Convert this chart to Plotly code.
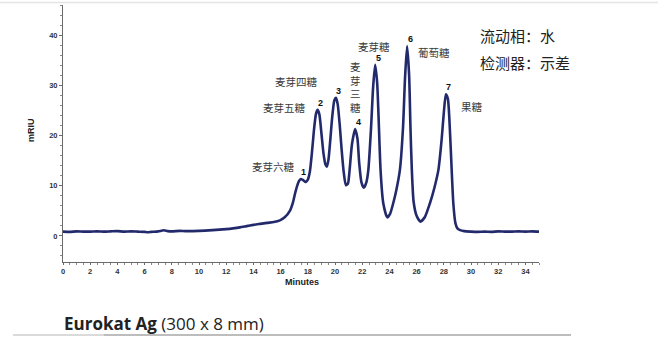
import plotly.graph_objects as go

# Refractive-index chromatogram of a maltooligosaccharide standard
time_min = [0.0, 0.5, 1.0, 1.5, 2.0, 2.5, 3.0, 3.5, 4.0, 4.5, 5.0, 5.5, 6.0, 6.2, 6.5,
            7.0, 7.4, 7.7, 8.0, 8.6, 9.0, 10.0, 11.0, 12.0, 12.5, 13.0, 13.5, 14.0,
            14.5, 15.0, 15.5, 15.95, 16.3, 16.68, 16.9, 17.05, 17.2, 17.35, 17.47,
            17.6, 17.75, 17.86, 18.0, 18.15, 18.3, 18.45, 18.6, 18.72, 18.85, 19.0,
            19.15, 19.3, 19.4, 19.52, 19.65, 19.8, 19.95, 20.07, 20.2, 20.35, 20.5,
            20.65, 20.8, 20.95, 21.07, 21.25, 21.48, 21.65, 21.78, 21.95, 22.12,
            22.3, 22.45, 22.65, 22.8, 22.95, 23.1, 23.2, 23.35, 23.55, 23.84, 24.05,
            24.28, 24.5, 24.77, 25.0, 25.15, 25.3, 25.45, 25.55, 25.65, 25.78, 26.0,
            26.28, 26.6, 26.98, 27.3, 27.6, 27.85, 28.0, 28.15, 28.3, 28.45, 28.58,
            28.7, 28.85, 29.0, 29.2, 29.5, 30.0, 30.5, 31.0, 31.5, 32.0, 32.5, 33.0,
            33.5, 34.0, 34.5, 35.0]
signal_mriu = [0.85, 0.8, 0.9, 0.85, 0.85, 0.9, 0.85, 0.9, 0.95, 0.85, 0.9, 0.85, 0.8, 0.72, 0.8,
               0.9, 1.12, 0.95, 0.9, 1.0, 0.95, 1.0, 1.15, 1.35, 1.5, 1.7, 1.95, 2.2,
               2.4, 2.6, 2.75, 3.1, 3.7, 5.0, 6.6, 8.3, 9.8, 10.9, 11.3,
               11.2, 10.9, 10.75, 11.2, 12.8, 16.5, 21.0, 24.3, 25.1, 24.2, 20.5,
               16.5, 14.2, 13.8, 15.2, 19.0, 23.8, 27.0, 27.5, 26.2, 22.0, 16.8,
               12.5, 10.1, 10.4, 13.0, 18.3, 21.3, 19.4, 14.5, 10.6, 9.6,
               10.6, 13.1, 21.5, 29.5, 34.1, 30.5, 24.0, 13.1, 6.5, 3.7, 4.4,
               6.5, 9.0, 13.1, 21.5, 31.5, 37.8, 32.0, 21.5, 13.1, 6.8, 4.0,
               2.85, 3.7, 6.5, 9.5, 13.1, 19.5, 24.5, 28.2, 27.3, 21.0, 13.1,
               6.5, 2.6, 1.5, 1.15, 0.95, 0.85, 0.8, 0.85, 0.8, 0.9, 0.85, 0.85,
               0.9, 0.85, 0.9, 0.85]

# Numbered peaks: retention time and apex height
peak_no = ["1", "2", "3", "4", "5", "6", "7"]
peak_time = [17.47, 18.72, 20.07, 21.48, 22.95, 25.3, 28.15]
peak_height = [11.3, 25.1, 27.5, 21.3, 34.1, 37.8, 28.2]

# Compound names and where they sit (minutes, mRIU)
compound_name = ["麦芽六糖", "麦芽五糖", "麦芽四糖", "麦<br>芽<br>三<br>糖", "麦芽糖", "葡萄糖", "果糖"]
compound_x = [15.5, 16.3, 17.2, 21.5, 22.85, 27.25, 30.05]
compound_y = [13.9, 25.5, 30.7, 29.6, 37.8, 36.5, 25.7]

x_ticks = list(range(0, 36, 2))
y_ticks = [0, 10, 20, 30, 40]

W, H = 658, 338
L, R, T, B = 63, 119, 5, 76


def px(xp):
    return (xp - L) / (W - L - R)


def py(yp):
    return (H - B - yp) / (H - B - T)


fig = go.Figure()
fig.add_trace(go.Scatter(
    x=time_min, y=signal_mriu, mode="lines",
    line=dict(color="#232a6c", width=2.6, shape="spline", smoothing=0.6),
    hoverinfo="skip", showlegend=False,
))

annotations = []
for n, t, h in zip(peak_no, peak_time, peak_height):
    annotations.append(dict(
        x=t, y=h, text=n, showarrow=False, xshift=3, yshift=7,
        font=dict(family="Liberation Sans, Arial", size=9, color="#111", weight="bold"),
    ))
for name, cx, cy in zip(compound_name, compound_x, compound_y):
    annotations.append(dict(
        x=cx, y=cy, text=name, showarrow=False,
        font=dict(family="Noto Sans CJK SC", size=10.5, color="#3a3a3a"),
    ))

annotations += [
    dict(xref="paper", yref="paper", x=px(478), y=py(35), xanchor="left", yanchor="middle",
         text="流动相：水", showarrow=False,
         font=dict(family="Noto Sans CJK SC", size=15, color="#222")),
    dict(xref="paper", yref="paper", x=px(478), y=py(62), xanchor="left", yanchor="middle",
         text="检测器：示差", showarrow=False,
         font=dict(family="Noto Sans CJK SC", size=15, color="#222")),
    dict(xref="paper", yref="paper", x=px(302), y=py(282), xanchor="center", yanchor="middle",
         text="Minutes", showarrow=False,
         font=dict(family="Liberation Sans, Arial", size=9, color="#222", weight="bold")),
    dict(xref="paper", yref="paper", x=px(31), y=py(130), xanchor="center", yanchor="middle",
         text="mRIU", textangle=-90, showarrow=False,
         font=dict(family="Liberation Sans, Arial", size=9, color="#222", weight="bold")),
    dict(xref="paper", yref="paper", x=px(62), y=py(323), xanchor="left", yanchor="middle",
         text="<b>Eurokat Ag</b> (300 x 8 mm)", showarrow=False,
         font=dict(family="Open Sans", size=17, color="#222")),
]

shapes = [
    dict(type="line", xref="paper", yref="paper", x0=px(0), x1=px(W), y0=py(2.5), y1=py(2.5),
         line=dict(color="#e4e4e4", width=1.5)),
    dict(type="line", xref="paper", yref="paper", x0=px(13), x1=px(104), y0=py(335), y1=py(335),
         line=dict(color="#dadada", width=2)),
    dict(type="line", xref="paper", yref="paper", x0=px(104), x1=px(571), y0=py(335), y1=py(335),
         line=dict(color="#bdbdbd", width=2)),
]

tick_font = dict(family="Liberation Sans, Arial", size=7.5, color="#333", weight="bold")
fig.update_layout(
    width=W, height=H,
    margin=dict(l=L, r=R, t=T, b=B),
    paper_bgcolor="white", plot_bgcolor="white",
    annotations=annotations, shapes=shapes,
    xaxis=dict(range=[0, 35], tickvals=x_ticks, showgrid=False, zeroline=False,
               showline=True, linecolor="#6a6a6a", linewidth=1,
               ticks="outside", ticklen=2, tickcolor="#6a6a6a", tickfont=tick_font,
               minor=dict(dtick=0.5, ticks="outside", ticklen=2, tickcolor="#8a8a8a")),
    yaxis=dict(range=[-5.2, 46], tickvals=y_ticks, showgrid=False, zeroline=False,
               showline=True, linecolor="#6a6a6a", linewidth=1,
               ticks="outside", ticklen=3, tickcolor="#6a6a6a", tickfont=tick_font,
               minor=dict(dtick=2, ticks="outside", ticklen=2, tickcolor="#8a8a8a")),
)

fig.write_html("out.html")
